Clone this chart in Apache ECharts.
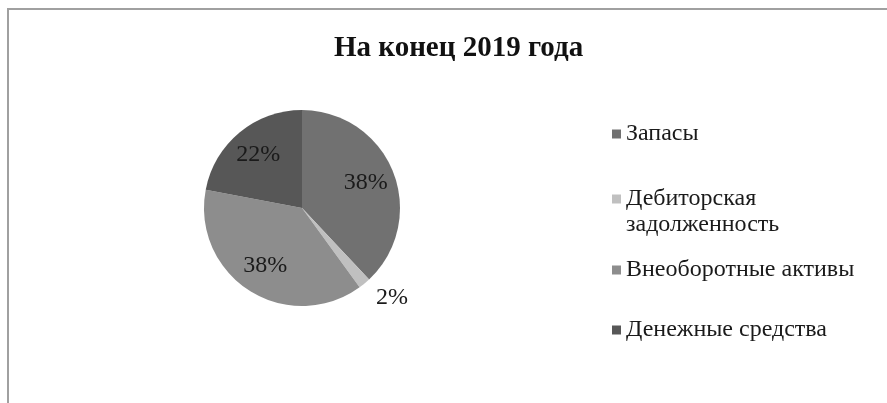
<!DOCTYPE html>
<html><head><meta charset="utf-8">
<script src="https://cdn.jsdelivr.net/npm/echarts@6/dist/echarts.min.js"></script>
<style>html,body{margin:0;padding:0;background:#fff}#c{width:887px;height:403px}</style>
</head><body><div id="c"></div>
<script>
const title = "На конец 2019 года";
const categories = ["Запасы", "Дебиторская задолженность", "Внеоборотные активы", "Денежные средства"];
const values = [38, 2, 38, 22];
const colors = ["#717171", "#c0c0c0", "#8d8d8d", "#575757"];
const legendTops = [116, 155, 252, 312];

const serif = "'Liberation Serif', 'DejaVu Serif', serif";
const chart = echarts.init(document.getElementById('c'), null, {renderer: 'canvas'});
const center = [302, 208];
const R = 98;

const data = categories.map((n, i) => ({name: n, value: values[i], itemStyle: {color: colors[i]}}));
const labelData = categories.map((n, i) => {
  const d = {name: n, value: values[i], itemStyle: {color: 'rgba(0,0,0,0)'}};
  if (values[i] < 5) {
    d.label = {position: 'outside', distanceToLabelLine: 0};
    d.labelLine = {show: false, length: 18, length2: 0};
  }
  return d;
});

const legends = categories.map((n, i) => ({
  orient: 'vertical', left: 607, top: legendTops[i],
  data: [n],
  itemWidth: 9, itemHeight: 9, itemGap: 0, icon: 'rect',
  selectedMode: false,
  formatter: name => name === "Дебиторская задолженность" ? "\nДебиторская\nзадолженность" : name,
  textStyle: {fontFamily: serif, fontSize: 24, color: '#1a1a1a', lineHeight: 26}
}));

chart.setOption({
  animation: false,
  backgroundColor: '#fff',
  title: {text: title, left: 329, top: 29,
    textStyle: {fontFamily: serif, fontSize: 29, fontWeight: 'bold', color: '#111'}},
  legend: legends,
  graphic: [{type: 'polyline', shape: {points: [[8, 403], [8, 9], [887, 9]]},
    style: {stroke: '#a0a0a0', lineWidth: 2, fill: null}, silent: true}],
  series: [
    {type: 'pie', center: center, radius: [0, R], startAngle: 90, clockwise: true,
      data: data, label: {show: false}, labelLine: {show: false}, silent: true},
    {type: 'pie', center: center, radius: [R * 0.34, R], startAngle: 90, clockwise: true,
      data: labelData, silent: true, legendHoverLink: false,
      label: {show: true, position: 'inside', formatter: p => p.value + '%',
        fontFamily: serif, fontSize: 24, color: '#1a1a1a'},
      labelLine: {show: false}, emphasis: {disabled: true}}
  ]
});
</script></body></html>
